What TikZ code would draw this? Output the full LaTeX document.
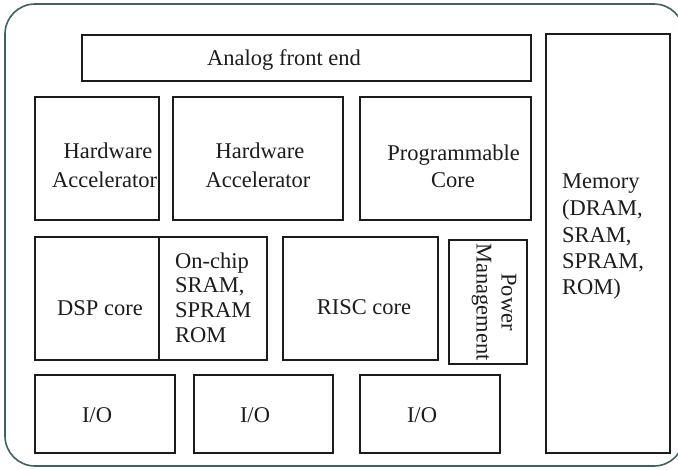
\documentclass[tikz,border=0pt]{standalone}
\usepackage{fontspec}
\setmainfont{Liberation Serif}
\usetikzlibrary{fit}
\definecolor{frame}{HTML}{3E6262}
\definecolor{ink}{HTML}{1C1C1C}
\tikzset{
  blk/.style={draw=ink, line width=1.6pt, inner sep=0pt, fill=white},
  lbl/.style={inner sep=0pt, text=ink, font=\fontsize{22.5}{29}\selectfont},
  lb/.style={lbl, anchor=base},
  lw/.style={lbl, anchor=base west},
}
\begin{document}
\begin{tikzpicture}[x=1pt,y=-1pt]
\useasboundingbox (0,0) rectangle (678,469);
\clip (0,0) rectangle (678,469);
\node[draw=frame, line width=1.6pt, rounded corners=30pt, inner sep=0pt, fit={(5,4) (684,466)}] (outer) {};
% boxes
\node[blk, fit={(82,35) (531,81)}] (afe) {};
\node[blk, fit={(546,34) (670,453)}] (mem) {};
\node[blk, fit={(35,97) (159,220)}] (ha1) {};
\node[blk, fit={(173,97) (343,220)}] (ha2) {};
\node[blk, fit={(360,97) (531,220)}] (prog) {};
\node[blk, fit={(35,237) (159,360)}] (dsp) {};
\node[blk, fit={(159,237) (267,360)}] (sram) {};
\node[blk, fit={(283,237) (438,360)}] (risc) {};
\node[blk, fit={(449,240) (527,364)}] (pm) {};
\node[blk, fit={(35,375) (175,453)}] (io1) {};
\node[blk, fit={(194,375) (333,453)}] (io2) {};
\node[blk, fit={(360,375) (500,453)}] (io3) {};
% labels
\node[lw] (tafe) at (207,65) {Analog front end};
\node[lb] (tha1a) at (108,158) {Hardware};
\node[lw] (tha1b) at (52,187) {Accelerator};
\node[lb] (tha2a) at (260,158) {Hardware};
\node[lb] (tha2b) at (258,187) {Accelerator};
\node[lb] (tproga) at (453.5,160) {Programmable};
\node[lb] (tprogb) at (453,187) {Core};
\node[lb] (tdsp) at (100,315) {DSP core};
\node[lw] (tsa) at (175,268) {On-chip};
\node[lw] (tsb) at (175,292.5) {SRAM,};
\node[lw] (tsc) at (175,317.5) {SPRAM};
\node[lw] (tsd) at (175,342) {ROM};
\node[lb] (trisc) at (364,314) {RISC core};
\node[lbl, align=center, rotate=-90, font=\fontsize{22.5}{25}\selectfont] (tpm) at (494,302) {Power\\Management};
\node[lb] (tio1) at (97,422) {I/O};
\node[lb] (tio2) at (255,422) {I/O};
\node[lb] (tio3) at (422,422) {I/O};
\node[lw] (tma) at (562,188) {Memory};
\node[lw] (tmb) at (562,215) {(DRAM,};
\node[lw] (tmc) at (562,242) {SRAM,};
\node[lw] (tmd) at (562,268) {SPRAM,};
\node[lw] (tme) at (562,294) {ROM)};
\end{tikzpicture}
\end{document}
